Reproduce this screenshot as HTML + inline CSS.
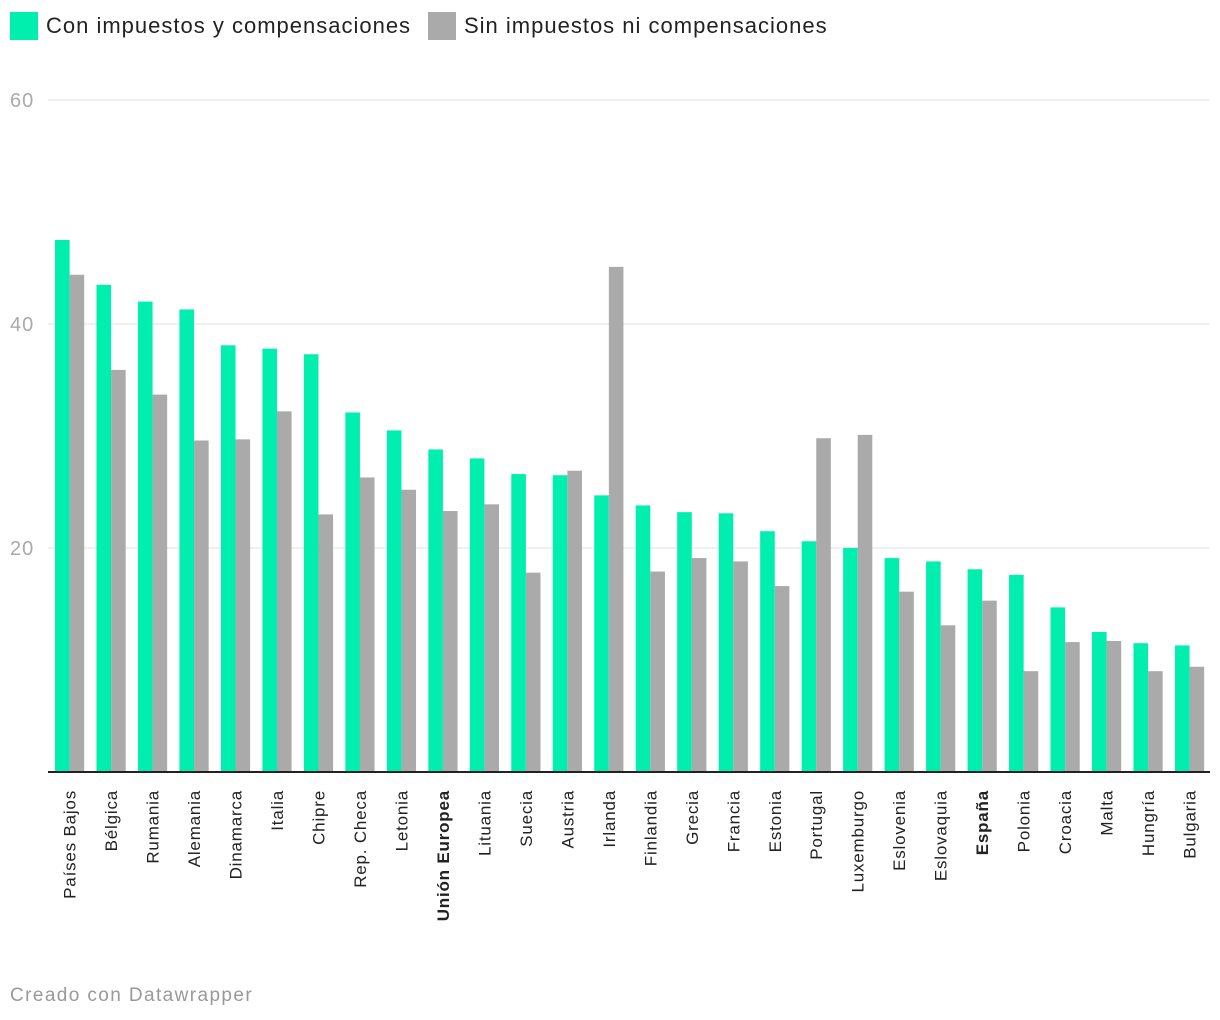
<!DOCTYPE html>
<html><head><meta charset="utf-8">
<style>
body{margin:0;background:#fff;font-family:"Liberation Sans",sans-serif;}
#wrap{position:relative;width:1220px;height:1020px;overflow:hidden;}
.leg{position:absolute;top:12px;height:28px;display:flex;align-items:center;font-size:22px;color:#222;letter-spacing:1px;}
.sw{width:28px;height:28px;margin-right:8px;}
#footer{position:absolute;left:10px;top:985px;font-size:19px;color:#999;letter-spacing:1.4px;}
</style></head>
<body>
<div id="wrap">
<div class="leg" style="left:10px"><div class="sw" style="background:#00efaf"></div>Con impuestos y compensaciones</div>
<div class="leg" style="left:428px"><div class="sw" style="background:#aaaaaa"></div>Sin impuestos ni compensaciones</div>
<svg id="chart" width="1220" height="1020" style="position:absolute;left:0;top:0"></svg>
<div id="footer">Creado con Datawrapper</div>
</div>
<script>
const categories=["Países Bajos","Bélgica","Rumania","Alemania","Dinamarca","Italia","Chipre","Rep. Checa","Letonia","Unión Europea","Lituania","Suecia","Austria","Irlanda","Finlandia","Grecia","Francia","Estonia","Portugal","Luxemburgo","Eslovenia","Eslovaquia","España","Polonia","Croacia","Malta","Hungría","Bulgaria"];
const conValues=[47.5,43.5,42.0,41.3,38.1,37.8,37.3,32.1,30.5,28.8,28.0,26.6,26.5,24.7,23.8,23.2,23.1,21.5,20.6,20.0,19.1,18.8,18.1,17.6,14.7,12.5,11.5,11.3];
const sinValues=[44.4,35.9,33.7,29.6,29.7,32.2,23.0,26.3,25.2,23.3,23.9,17.8,26.9,45.1,17.9,19.1,18.8,16.6,29.8,30.1,16.1,13.1,15.3,9.0,11.6,11.7,9.0,9.4];
const boldCats=["Unión Europea","España"];
const yTicks=[20,40,60];
const svg=document.getElementById('chart');
const NS='http://www.w3.org/2000/svg';
const y=v=>772-v*11.2;
const x0=55,step=41.48,bw=14.6;
const gx=i=>x0+i*step;
function mk(t,a){const e=document.createElementNS(NS,t);for(const k in a)e.setAttribute(k,a[k]);svg.appendChild(e);return e;}
yTicks.forEach(t=>{
 const l=mk('line',{x1:48,x2:1210,y1:y(t),y2:y(t),stroke:'#e0e0e0','stroke-width':1});
 
 
 const tx=mk('text',{x:10,y:y(t)+7,'font-size':20,fill:'#aaa','letter-spacing':1});
 tx.textContent=t;
 
 
});
categories.forEach((c,i)=>{
 const g=mk('rect',{x:gx(i),y:y(conValues[i]),width:bw,height:conValues[i]*11.2,fill:'#00efaf'});
 
 
 const s=mk('rect',{x:gx(i)+bw,y:y(sinValues[i]),width:bw,height:sinValues[i]*11.2,fill:'#aaaaaa'});
 
 
 const cx=gx(i)+bw+6;
 const t=mk('text',{x:0,y:0,transform:`translate(${cx},790) rotate(-90)`,'text-anchor':'end','font-size':17,'letter-spacing':0.8,fill:'#222','font-weight':boldCats.includes(c)?'bold':'normal'});
 t.textContent=c;
 
 
});
const base=mk('line',{x1:48,x2:1210,y1:772,y2:772,stroke:'#222','stroke-width':2});


</script>
</body></html>
